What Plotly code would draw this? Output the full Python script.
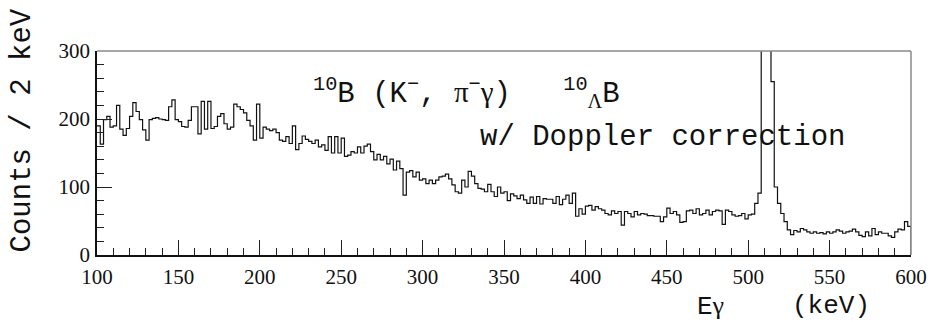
import numpy as np
import plotly.graph_objects as go

# Histogram: E_gamma from 100 to 600 keV, 2 keV bins
bin_start = 100
bin_width = 2
counts = [
    190, 163, 199, 204, 188, 190, 220, 185, 176, 186,
    204, 224, 211, 199, 184, 169, 199, 201, 202, 200,
    199, 198, 218, 228, 199, 196, 189, 188, 198, 218,
    218, 178, 226, 185, 226, 186, 189, 204, 208, 193,
    185, 188, 222, 218, 214, 209, 198, 190, 169, 222,
    172, 188, 185, 183, 185, 180, 169, 167, 174, 164,
    190, 155, 164, 175, 170, 167, 164, 169, 159, 162,
    154, 174, 150, 174, 150, 172, 145, 147, 152, 150,
    159, 150, 160, 163, 152, 140, 148, 140, 145, 134,
    141, 125, 138, 127, 88, 122, 124, 115, 122, 110,
    112, 105, 110, 105, 110, 115, 116, 119, 112, 103,
    93, 91, 110, 100, 123, 116, 105, 98, 97, 93,
    104, 93, 86, 100, 91, 93, 80, 90, 87, 83,
    88, 81, 76, 85, 76, 86, 75, 83, 82, 82,
    76, 86, 74, 82, 88, 76, 91, 57, 68, 60,
    72, 73, 66, 71, 68, 66, 61, 59, 65, 61,
    64, 44, 64, 61, 56, 64, 59, 61, 60, 58,
    58, 57, 57, 49, 56, 69, 61, 64, 59, 48,
    49, 65, 66, 61, 68, 59, 61, 66, 59, 64,
    66, 65, 45, 66, 64, 59, 57, 58, 61, 53,
    59, 60, 76, 91, 420, 560, 380, 255, 100, 76,
    61, 49, 37, 30, 36, 34, 39, 37, 34, 32,
    34, 32, 33, 31, 34, 32, 34, 37, 35, 32,
    34, 35, 38, 34, 29, 27, 34, 28, 39, 30,
    34, 32, 32, 28, 26, 34, 38, 37, 49, 42,
]
x_ticks = [100, 150, 200, 250, 300, 350, 400, 450, 500, 550, 600]
y_ticks = [0, 100, 200, 300]

n = len(counts)
edges = [bin_start + bin_width * i for i in range(n + 1)]
xs = edges + [edges[-1]]
ys = counts + [counts[-1], 0]

fig = go.Figure()
fig.add_trace(go.Scatter(
    x=xs, y=ys, mode="lines", line=dict(shape="hv", color="#111", width=1.2),
    showlegend=False, hoverinfo="skip", cliponaxis=True,
))

W, H = 939, 322
L, R, T, B = 97, 23, 51, 67

serif = "Liberation Serif, Times New Roman, serif"
mono = "Liberation Mono, Courier New, monospace"

fig.update_layout(
    width=W, height=H,
    margin=dict(l=L, r=R, t=T, b=B, pad=0),
    paper_bgcolor="white", plot_bgcolor="white",
    xaxis=dict(
        range=[100, 600], tickvals=x_ticks, ticks="inside", ticklen=15, tickwidth=1,
        tickcolor="#222", showgrid=False, zeroline=False,
        showline=True, linecolor="#111", linewidth=1.5,
        tickfont=dict(family=serif, size=21, color="#111"),
        minor=dict(ticks="inside", ticklen=7, dtick=10, tickcolor="#222", tickwidth=1, showgrid=False),
        ticklabelstandoff=2,
    ),
    yaxis=dict(
        range=[0, 300], tickvals=y_ticks, ticks="inside", ticklen=15, tickwidth=1,
        tickcolor="#222", showgrid=False, zeroline=False,
        showline=True, linecolor="#111", linewidth=1.5,
        tickfont=dict(family=serif, size=21, color="#111"),
        minor=dict(ticks="inside", ticklen=7, dtick=20, tickcolor="#222", tickwidth=1, showgrid=False),
        ticklabelstandoff=1,
    ),
)

# top and right frame lines (grey)
fig.add_shape(type="line", xref="paper", yref="paper", x0=0, x1=1, y0=1, y1=1,
              line=dict(color="#8a8a8a", width=1.5))
fig.add_shape(type="line", xref="paper", yref="paper", x0=1, x1=1, y0=0, y1=1,
              line=dict(color="#8a8a8a", width=1.5))

pw = W - L - R
ph = H - T - B

def px(xpix):
    return (xpix - L) / pw

def py(ypix):
    return (H - B - ypix) / ph

greek = '<span style="font-family:Liberation Serif, serif">{}</span>'
title_txt = ("<sup>10</sup>B (K<sup>−</sup>, " + greek.format("π") + "<sup>−</sup>"
             + greek.format("γ") + ")   <sup>10</sup><sub>" + greek.format("Λ") + "</sub>B")
fig.add_annotation(text=title_txt, xref="paper", yref="paper", x=px(312), y=py(92),
                   xanchor="left", yanchor="middle", showarrow=False,
                   font=dict(family=mono, size=29, color="#111"))
fig.add_annotation(text="w/ Doppler correction", xref="paper", yref="paper", x=px(480), y=py(137),
                   xanchor="left", yanchor="middle", showarrow=False,
                   font=dict(family=mono, size=29, color="#111"))
fig.add_annotation(text="Counts / 2 keV", xref="paper", yref="paper", x=px(22), y=py(130),
                   xanchor="center", yanchor="middle", textangle=-90, showarrow=False,
                   font=dict(family=mono, size=29, color="#111"))
fig.add_annotation(text="E" + greek.format("γ"), xref="paper", yref="paper", x=px(699), y=py(306),
                   xanchor="left", yanchor="middle", showarrow=False,
                   font=dict(family=mono, size=26, color="#111"))
fig.add_annotation(text="(keV)", xref="paper", yref="paper", x=px(794), y=py(306),
                   xanchor="left", yanchor="middle", showarrow=False,
                   font=dict(family=mono, size=26, color="#111"))

fig.write_html("out.html")
